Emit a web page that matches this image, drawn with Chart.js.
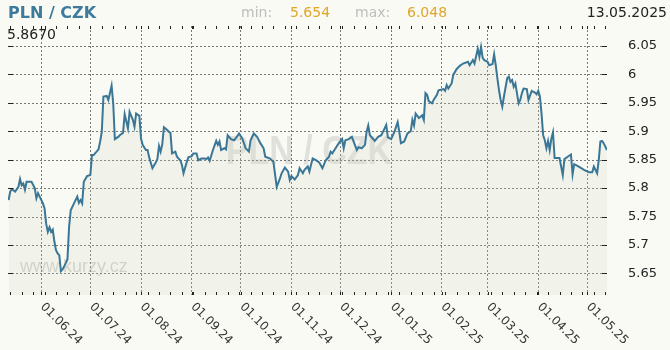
<!DOCTYPE html>
<html>
<head>
<meta charset="utf-8">
<script src="https://cdn.jsdelivr.net/npm/chart.js@4.4.1/dist/chart.umd.min.js"></script>
<style>
  body { margin: 0; background: #f9faf4; font-family: 'DejaVu Sans', sans-serif; }
  #wrap { position: relative; width: 670px; height: 350px; }
  #myChart { position: absolute; left: 0; top: 0; }
  .t { position: absolute; white-space: nowrap; line-height: 1; }
</style>
</head>
<body>
<div id="wrap">
  <canvas id="myChart" width="670" height="350"></canvas>
  <div class="t" style="left:8px;top:5px;font-size:16px;font-weight:bold;color:#3d7a9b">PLN / CZK</div>
  <div class="t" style="left:241px;top:5px;font-size:14px;color:#bdbdbd">min:</div>
  <div class="t" id="minv" style="left:290px;top:5px;font-size:14px;color:#e0a52a"></div>
  <div class="t" style="left:355px;top:5px;font-size:14px;color:#bdbdbd">max:</div>
  <div class="t" id="maxv" style="left:407px;top:5px;font-size:14px;color:#e0a52a"></div>
  <div class="t" style="right:3px;top:5px;font-size:14px;color:#222">13.05.2025</div>
  <div class="t" id="lastv" style="left:7px;top:27px;font-size:14px;color:#222"></div>
</div>
<script>
// days counted from 13.05.2024
const startDate = new Date(2024, 4, 13)
const days = [
  -1, 0, 1, 3, 5, 6, 7, 8, 9, 10,
  13, 15, 16, 17, 18, 20, 21, 22, 23, 24,
  25, 26, 27, 28, 29, 30, 31, 32, 34, 35,
  36, 37, 39, 41, 42, 43, 44, 45, 47, 49,
  50, 51, 54, 55, 56, 57, 59, 60, 61, 62,
  63, 64, 66, 67, 69, 70, 72, 73, 75, 76,
  77, 79, 80, 81, 83, 84, 85, 87, 89, 90,
  91, 92, 93, 94, 96, 97, 98, 99, 101, 102,
  104, 105, 106, 108, 109, 111, 112, 114, 115, 117,
  119, 120, 121, 122, 124, 126, 127, 128, 129, 131,
  132, 133, 135, 137, 140, 142, 144, 146, 147, 149,
  151, 153, 155, 156, 159, 161, 163, 165, 166, 168,
  170, 171, 172, 174, 176, 177, 179, 180, 182, 183,
  184, 185, 187, 189, 191, 193, 195, 196, 197, 199,
  201, 203, 204, 205, 207, 209, 210, 212, 213, 215,
  217, 218, 219, 220, 223, 225, 227, 229, 230, 231,
  233, 235, 237, 238, 239, 241, 243, 245, 246, 247,
  248, 250, 252, 253, 254, 255, 256, 258, 259, 261,
  262, 265, 266, 267, 268, 270, 271, 273, 275, 277,
  280, 281, 283, 284, 286, 287, 288, 289, 290, 292,
  293, 295, 296, 297, 298, 299, 300, 301, 302, 304,
  305, 306, 307, 308, 309, 311, 312, 313, 314, 316,
  317, 319, 321, 322, 323, 324, 325, 326, 327, 328,
  329, 330, 331, 332, 333, 336, 337, 338, 339, 341,
  343, 344, 345, 347, 351, 354, 356, 357, 359, 360,
  361, 362, 363, 365
]
const rates = [
  5.779, 5.794, 5.798, 5.794, 5.802, 5.816, 5.805, 5.808, 5.797, 5.811,
  5.811, 5.800, 5.782, 5.791, 5.785, 5.773, 5.764, 5.737, 5.723, 5.731,
  5.723, 5.727, 5.706, 5.691, 5.685, 5.682, 5.654, 5.657, 5.668, 5.675,
  5.732, 5.761, 5.773, 5.785, 5.774, 5.779, 5.773, 5.811, 5.821, 5.823,
  5.858, 5.858, 5.868, 5.882, 5.899, 5.961, 5.962, 5.955, 5.967, 5.980,
  5.949, 5.886, 5.890, 5.893, 5.897, 5.930, 5.905, 5.934, 5.920, 5.908,
  5.931, 5.927, 5.887, 5.876, 5.867, 5.867, 5.854, 5.835, 5.845, 5.851,
  5.874, 5.864, 5.877, 5.907, 5.902, 5.899, 5.897, 5.861, 5.864, 5.855,
  5.849, 5.841, 5.826, 5.846, 5.854, 5.856, 5.861, 5.861, 5.849, 5.852,
  5.852, 5.851, 5.854, 5.848, 5.867, 5.883, 5.876, 5.882, 5.867, 5.870,
  5.868, 5.893, 5.886, 5.884, 5.896, 5.887, 5.870, 5.864, 5.884, 5.896,
  5.890, 5.879, 5.870, 5.855, 5.852, 5.846, 5.802, 5.817, 5.826, 5.836,
  5.829, 5.814, 5.821, 5.815, 5.823, 5.835, 5.826, 5.832, 5.838, 5.829,
  5.841, 5.852, 5.849, 5.845, 5.835, 5.849, 5.855, 5.864, 5.861, 5.870,
  5.879, 5.886, 5.870, 5.884, 5.886, 5.890, 5.882, 5.867, 5.872, 5.870,
  5.876, 5.899, 5.910, 5.893, 5.883, 5.890, 5.893, 5.905, 5.911, 5.889,
  5.886, 5.899, 5.916, 5.899, 5.879, 5.882, 5.896, 5.900, 5.920, 5.910,
  5.931, 5.923, 5.928, 5.920, 5.967, 5.964, 5.953, 5.949, 5.955, 5.964,
  5.972, 5.974, 5.971, 5.981, 5.975, 5.984, 5.999, 6.009, 6.015, 6.019,
  6.022, 6.016, 6.025, 6.019, 6.045, 6.031, 6.048, 6.029, 6.025, 6.022,
  6.016, 6.018, 6.035, 6.016, 5.993, 5.972, 5.955, 5.943, 5.961, 5.993,
  5.996, 5.987, 5.990, 5.978, 5.984, 5.949, 5.955, 5.967, 5.975, 5.974,
  5.955, 5.971, 5.968, 5.965, 5.971, 5.961, 5.931, 5.893, 5.884, 5.870,
  5.883, 5.867, 5.887, 5.898, 5.853, 5.853, 5.838, 5.823, 5.851, 5.855,
  5.859, 5.824, 5.842, 5.839, 5.832, 5.828, 5.828, 5.838, 5.826, 5.849,
  5.882, 5.883, 5.879, 5.867
]
const monthLabels = ['01.06.24', '01.07.24', '01.08.24', '01.09.24', '01.10.24', '01.11.24',
  '01.12.24', '01.01.25', '01.02.25', '01.03.25', '01.04.25', '01.05.25']
const yTicks = [5.65, 5.7, 5.75, 5.8, 5.85, 5.9, 5.95, 6, 6.05]

const lineColor = '#3a7696'
const fillColor = 'rgba(209,210,189,0.2)'
const gridColor = '#777777'

const dayOf = (label) => {
  const [d, m, y] = label.split('.').map(Number)
  return Math.round((new Date(2000 + y, m - 1, d) - startDate) / 86400000)
}
const monthDays = monthLabels.map(dayOf)
// mondays for the small ticks on the frame
const weekDays = []
for (let d = 0; d <= 365; d += 7) weekDays.push(d)

document.getElementById('minv').textContent = Math.min(...rates).toFixed(3)
document.getElementById('maxv').textContent = Math.max(...rates).toFixed(3)
document.getElementById('lastv').textContent = rates[rates.length - 1].toFixed(4)

const decor = {
  id: 'decor',
  beforeDatasetsDraw(chart) {
    const { ctx, chartArea } = chart
    const ys = chart.scales.y
    // horizontal dotted grid
    ctx.save()
    ctx.strokeStyle = gridColor
    ctx.lineWidth = 1
    ctx.setLineDash([2, 2])
    ctx.beginPath()
    yTicks.forEach(v => {
      const py = Math.round(ys.getPixelForValue(v)) + 0.5
      ctx.moveTo(chartArea.left, py); ctx.lineTo(chartArea.right, py)
    })
    ctx.stroke()
    ctx.restore()
    ctx.save()
    ctx.fillStyle = 'rgba(110,110,110,0.18)'
    ctx.font = 'bold 40px "Liberation Sans"'
    ctx.textAlign = 'center'
    ctx.translate(309, 164)
    ctx.scale(0.85, 1)
    ctx.fillText('PLN / CZK', 0, 0)
    ctx.restore()
    ctx.save()
    ctx.fillStyle = 'rgba(120,120,120,0.3)'
    ctx.font = '18px "Liberation Sans"'
    ctx.fillText('www.kurzy.cz', chartArea.left + 12, 272)
    ctx.restore()
  },
  afterDraw(chart) {
    const { ctx, chartArea } = chart
    const xs = chart.scales.x, ys = chart.scales.y
    ctx.save()
    ctx.strokeStyle = '#222'
    ctx.lineWidth = 1
    ctx.beginPath()
    yTicks.forEach(v => {
      const py = Math.round(ys.getPixelForValue(v)) + 0.5
      ctx.moveTo(chartArea.left, py); ctx.lineTo(chartArea.left + 5, py)
      ctx.moveTo(chartArea.right - 5, py); ctx.lineTo(chartArea.right, py)
    })
    weekDays.concat(monthDays).forEach(d => {
      const px = Math.round(xs.getPixelForValue(d)) + 0.5
      ctx.moveTo(px, chartArea.top); ctx.lineTo(px, chartArea.top + 3)
      ctx.moveTo(px, chartArea.bottom - 3); ctx.lineTo(px, chartArea.bottom)
    })
    ctx.stroke()
    ctx.fillStyle = '#333'
    ctx.font = '12px "DejaVu Sans"'
    ctx.textAlign = 'left'
    ctx.textBaseline = 'middle'
    monthLabels.forEach((lab, i) => {
      const px = xs.getPixelForValue(monthDays[i])
      ctx.save()
      ctx.translate(px + 1, chartArea.bottom + 10)
      ctx.rotate(Math.PI / 4)
      ctx.fillText(lab, 0, 0)
      ctx.restore()
    })
    ctx.restore()
  }
}

const myChart = document.getElementById('myChart').getContext('2d')
new Chart(myChart, {
  type: 'line',
  data: {
    datasets: [{
      data: days.map((d, i) => ({ x: d, y: rates[i] })),
      borderColor: lineColor,
      borderWidth: 2,
      backgroundColor: fillColor,
      fill: 'start',
      pointRadius: 0,
      tension: 0
    }]
  },
  options: {
    responsive: false,
    animation: false,
    layout: { padding: { left: 8, top: 26, right: 0, bottom: 55 } },
    plugins: { legend: { display: false }, tooltip: { enabled: false } },
    scales: {
      x: {
        type: 'linear',
        min: -1.37,
        max: 365.05,
        afterBuildTicks: s => { s.ticks = monthDays.map(v => ({ value: v })) },
        ticks: { display: false },
        grid: { color: gridColor, drawTicks: false },
        border: { display: false, dash: [2, 2] }
      },
      y: {
        position: 'right',
        min: 5.612,
        max: 6.085,
        afterBuildTicks: s => { s.ticks = yTicks.map(v => ({ value: v })) },
        afterFit: s => { s.width = 63 },
        ticks: {
          padding: 13,
          color: '#222',
          font: { family: 'DejaVu Sans', size: 13 },
          callback: v => String(+Number(v).toFixed(2))
        },
        grid: { display: false },
        border: { display: false }
      }
    }
  },
  plugins: [decor]
})
</script>
</body>
</html>
